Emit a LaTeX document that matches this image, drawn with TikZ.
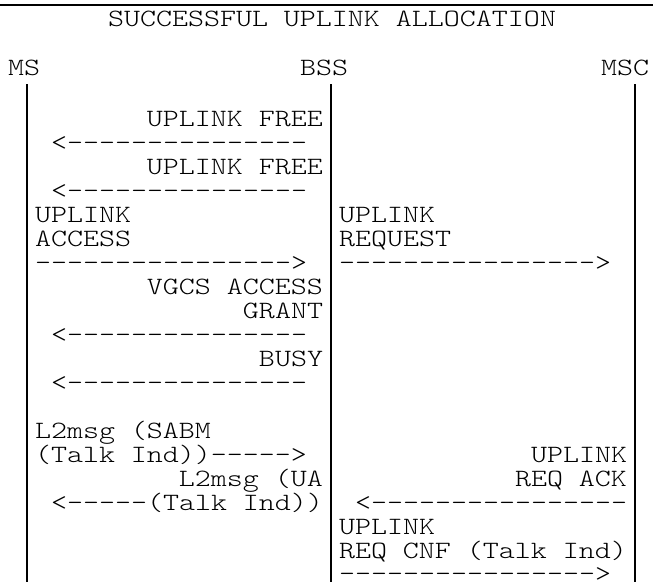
\documentclass[tikz,border=0pt]{standalone}
\usepackage{fontspec}
\setmonofont{Latin Modern Mono Light}[FakeStretch=1.225]
\begin{document}
\begin{tikzpicture}[x=0.75pt,y=-0.75pt,
  txt/.style={inner sep=0pt,outer sep=0pt,font=\ttfamily\fontsize{18.66pt}{24pt}\selectfont},
  lw/.style={txt,anchor=base west},
  le/.style={txt,anchor=base east},
  life/.style={line width=1.5pt},
  rule/.style={line width=1.9pt}]
\useasboundingbox (0,0) rectangle (653,582);
% top rule
\coordinate (rl) at (0,5);
\coordinate (rr) at (653,5);
\draw[rule] (rl) -- (rr);
% title and headers
\node[lw] (title) at (108,26.5) {SUCCESSFUL UPLINK ALLOCATION};
\node[lw] (ms) at (8,75) {MS};
\node[lw] (bss) at (300,75) {BSS};
\node[lw] (msc) at (601,75) {MSC};
% lifelines
\coordinate (mst) at (27,84);  \coordinate (msb) at (27,582);
\coordinate (bsst) at (331,84); \coordinate (bssb) at (331,582);
\coordinate (msct) at (635,84); \coordinate (mscb) at (635,582);
\draw[life] (mst) -- (msb);
\draw[life] (bsst) -- (bssb);
\draw[life] (msct) -- (mscb);
% left column messages
\node[le] (f1) at (323,126.6) {UPLINK FREE};
\node[lw] (a1) at (51,150.6) {<---------------};
\node[le] (f2) at (323,174.6) {UPLINK FREE};
\node[lw] (a2) at (51,198.6) {<---------------};
\node[lw] (ua1) at (35,222.6) {UPLINK};
\node[lw] (ua2) at (35,246.6) {ACCESS};
\node[lw] (a3) at (35,270.6) {---------------->};
\node[le] (vg1) at (323,294.6) {VGCS ACCESS};
\node[le] (vg2) at (323,318.6) {GRANT};
\node[lw] (a4) at (51,342.6) {<---------------};
\node[le] (busy) at (323,366.6) {BUSY};
\node[lw] (a5) at (51,390.6) {<---------------};
\node[lw] (l1) at (35,438.6) {L2msg (SABM};
\node[lw] (l2) at (35,462.6) {(Talk Ind))----->};
\node[le] (l3) at (323,486.6) {L2msg (UA};
\node[lw] (l4) at (51,510.6) {<-----(Talk Ind))};
% right column messages
\node[lw] (ur1) at (339,222.6) {UPLINK};
\node[lw] (ur2) at (339,246.6) {REQUEST};
\node[lw] (a6) at (339,270.6) {---------------->};
\node[le] (ra1) at (627,462.6) {UPLINK};
\node[le] (ra2) at (627,486.6) {REQ ACK};
\node[lw] (a7) at (355,510.6) {<----------------};
\node[lw] (rc1) at (339,534.6) {UPLINK};
\node[lw] (rc2) at (339,558.6) {REQ CNF (Talk Ind)};
\node[lw] (a8) at (339,581) {---------------->};
\end{tikzpicture}
\end{document}
